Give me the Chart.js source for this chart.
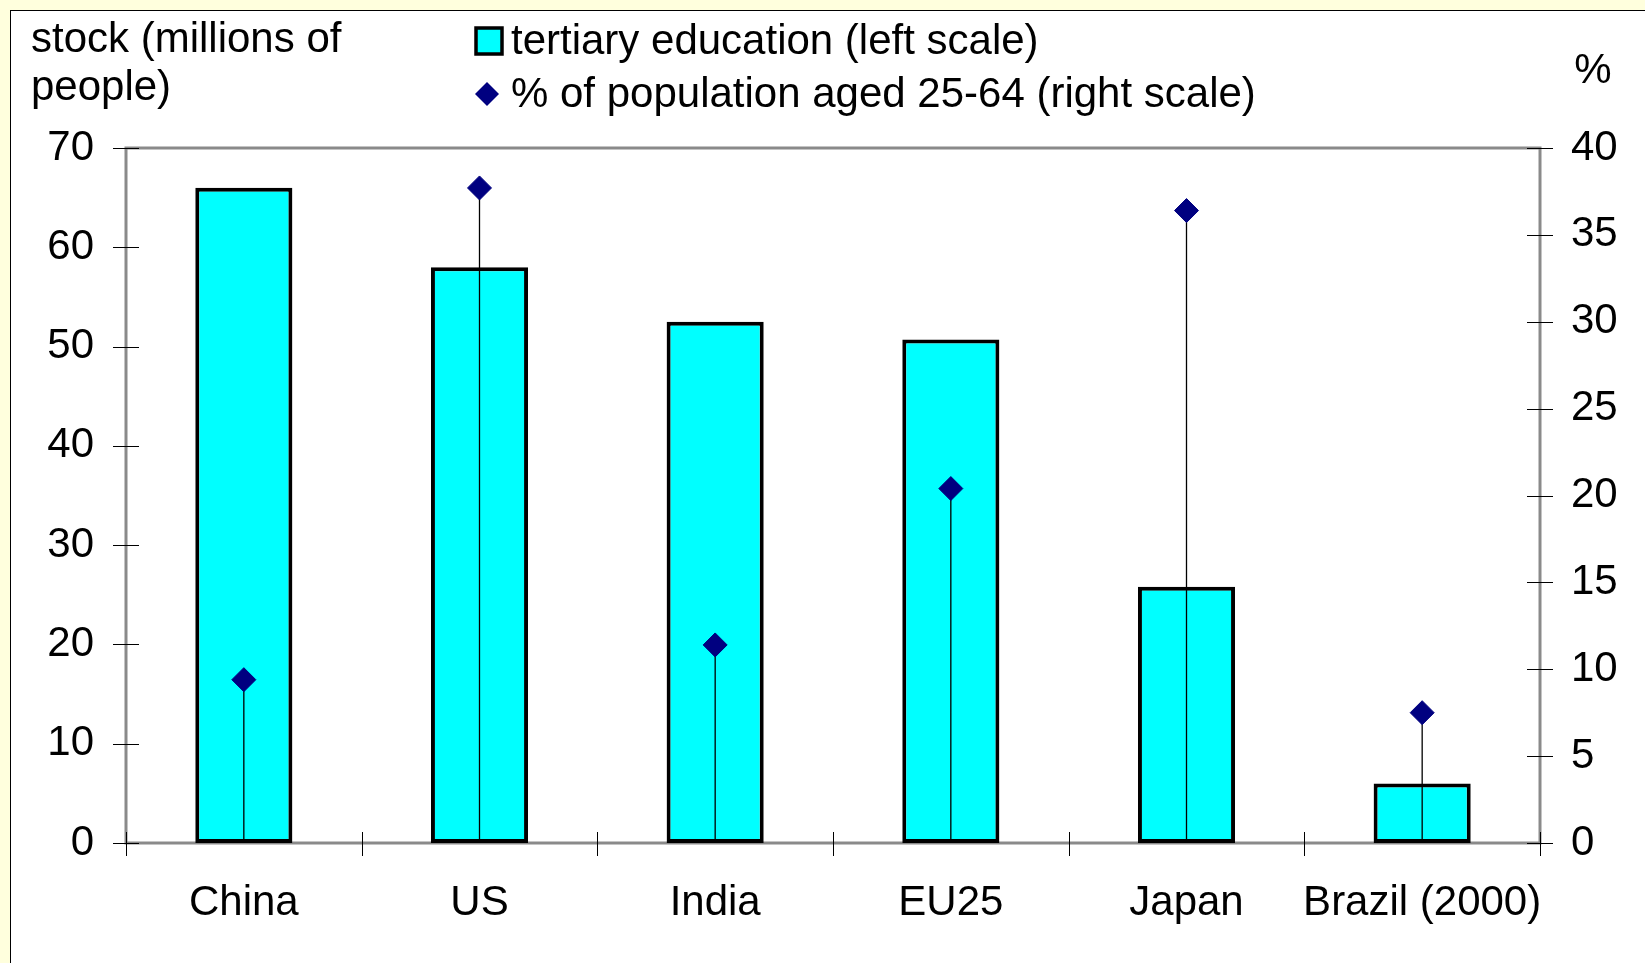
<!DOCTYPE html>
<html>
<head>
<meta charset="utf-8">
<title>Tertiary education stock</title>
<script src="https://cdn.jsdelivr.net/npm/chart.js@4/dist/chart.umd.min.js"></script>
<style>
  html, body { margin: 0; padding: 0; background: #ffffdd; }
  #panel {
    position: absolute; left: 10px; top: 10px; right: 0; bottom: 0;
    background: #fff; border-left: 1px solid #000; border-top: 1px solid #000;
  }
  #wrap { position: absolute; left: 0; top: 0; width: 1645px; height: 963px; }
</style>
</head>
<body>
<div id="panel"></div>
<div id="wrap"><canvas id="eduChart"></canvas></div>
<script>
// ========= Data =========
const countries = ["China", "US", "India", "EU25", "Japan", "Brazil (2000)"];
// millions of people with tertiary education (left axis)
const tertiaryStock = [66, 58, 52.5, 50.7, 25.8, 6.0];
// share of population aged 25-64, % (right axis)
const shareAged2564 = [9.4, 37.7, 11.4, 20.4, 36.4, 7.5];
const leftTicks = [0, 10, 20, 30, 40, 50, 60, 70];
const rightTicks = [0, 5, 10, 15, 20, 25, 30, 35, 40];

const barLabel = "tertiary education (left scale)";
const pointLabel = "% of population aged 25-64 (right scale)";
const leftUnit = ["stock (millions of", "people)"];
const rightUnit = "%";

const FONT = '"Liberation Sans", Arial, sans-serif';
const FONT_SIZE = 42;
const CYAN = "#00ffff";
const NAVY = "#000080";

Chart.defaults.font.family = FONT;
Chart.defaults.font.size = FONT_SIZE;
Chart.defaults.color = "#000";

/* ========= Plugins ========= */
// grey plot frame + tick marks that cross the axes
const frameTicks = {
  id: "frameTicks",
  beforeDatasetsDraw(chart) {
    const { ctx, chartArea: a, scales } = chart;
    ctx.save();
    ctx.strokeStyle = "#8a8a8a";
    ctx.lineWidth = 3;
    ctx.strokeRect(a.left, a.top, a.right - a.left, a.bottom - a.top);

    ctx.strokeStyle = "#000";
    ctx.lineWidth = 1;
    ctx.beginPath();
    scales.y.ticks.forEach((t) => {
      const y = Math.round(scales.y.getPixelForValue(t.value)) + 0.5;
      ctx.moveTo(a.left - 13, y);
      ctx.lineTo(a.left + 13, y);
    });
    scales.y2.ticks.forEach((t) => {
      const y = Math.round(scales.y2.getPixelForValue(t.value)) + 0.5;
      ctx.moveTo(a.right - 13, y);
      ctx.lineTo(a.right + 13, y);
    });
    const n = countries.length;
    const step = (scales.x.right - scales.x.left) / n;
    for (let i = 0; i <= n; i++) {
      const x = Math.round(scales.x.left + i * step) + 0.5;
      ctx.moveTo(x, a.bottom - 11);
      ctx.lineTo(x, a.bottom + 13);
    }
    ctx.stroke();
    ctx.restore();
  }
};

// drop lines from each diamond down to zero
const dropLines = {
  id: "dropLines",
  beforeDatasetDraw(chart, args) {
    if (args.meta.type !== "line") return;
    const { ctx, scales } = chart;
    const base = scales.y2.getPixelForValue(0);
    ctx.save();
    ctx.strokeStyle = "#000";
    ctx.lineWidth = 1.3;
    ctx.beginPath();
    args.meta.data.forEach((pt) => {
      ctx.moveTo(pt.x, pt.y);
      ctx.lineTo(pt.x, base);
    });
    ctx.stroke();
    ctx.restore();
  }
};

// unit captions and the two-row legend
const captions = {
  id: "captions",
  afterDraw(chart) {
    const { ctx } = chart;
    ctx.save();
    ctx.font = `${FONT_SIZE}px ${FONT}`;
    ctx.fillStyle = "#000";
    ctx.textBaseline = "alphabetic";
    ctx.textAlign = "left";
    ctx.fillText(leftUnit[0], 31, 52);
    ctx.fillText(leftUnit[1], 31, 100);
    ctx.textAlign = "center";
    ctx.fillText(rightUnit, 1593, 83);

    // bar swatch
    ctx.textAlign = "left";
    ctx.fillStyle = CYAN;
    ctx.fillRect(476, 28, 26, 26);
    ctx.strokeStyle = "#000";
    ctx.lineWidth = 3.5;
    ctx.strokeRect(476, 28, 26, 26);
    ctx.fillStyle = "#000";
    ctx.fillText(barLabel, 511, 54);

    // diamond swatch
    const cx = 487, cy = 94, r = 12;
    ctx.fillStyle = NAVY;
    ctx.beginPath();
    ctx.moveTo(cx, cy - r);
    ctx.lineTo(cx + r, cy);
    ctx.lineTo(cx, cy + r);
    ctx.lineTo(cx - r, cy);
    ctx.closePath();
    ctx.fill();
    ctx.fillStyle = "#000";
    ctx.fillText(pointLabel, 511, 107);
    ctx.restore();
  }
};

/* ========= Chart ========= */
function educationChart() {
  const el = document.getElementById("eduChart");
  if (!el) return;

  new Chart(el.getContext("2d"), {
    type: "bar",
    data: {
      labels: countries,
      datasets: [
        {
          type: "bar",
          label: barLabel,
          data: tertiaryStock,
          yAxisID: "y",
          backgroundColor: CYAN,
          borderColor: "#000",
          borderWidth: 4,
          borderSkipped: false,
          categoryPercentage: 1,
          barPercentage: 0.412,
          order: 2
        },
        {
          type: "line",
          label: pointLabel,
          data: shareAged2564,
          yAxisID: "y2",
          showLine: false,
          pointStyle: "rectRot",
          pointRadius: 12,
          pointHoverRadius: 12,
          pointBackgroundColor: NAVY,
          pointBorderColor: NAVY,
          pointBorderWidth: 1,
          order: 1
        }
      ]
    },
    options: {
      responsive: true,
      maintainAspectRatio: false,
      animation: false,
      layout: { padding: { top: 148, left: 0, right: 0, bottom: 0 } },
      plugins: {
        legend: { display: false },
        tooltip: { enabled: false }
      },
      scales: {
        x: {
          offset: true,
          grid: { display: false, drawTicks: false },
          border: { display: false },
          ticks: { padding: 35, maxRotation: 0, autoSkip: false },
          afterFit: (s) => { s.height = 120; }
        },
        y: {
          position: "left",
          min: 0,
          max: 70,
          grid: { display: false, drawTicks: false },
          border: { display: false },
          ticks: { padding: 32 },
          afterBuildTicks: (s) => { s.ticks = leftTicks.map((v) => ({ value: v })); },
          afterFit: (s) => { s.width = 126; }
        },
        y2: {
          position: "right",
          min: 0,
          max: 40,
          grid: { display: false, drawTicks: false },
          border: { display: false },
          ticks: { padding: 31 },
          afterBuildTicks: (s) => { s.ticks = rightTicks.map((v) => ({ value: v })); },
          afterFit: (s) => { s.width = 105; }
        }
      }
    },
    plugins: [frameTicks, dropLines, captions]
  });
}

window.addEventListener("load", educationChart);
</script>
</body>
</html>
